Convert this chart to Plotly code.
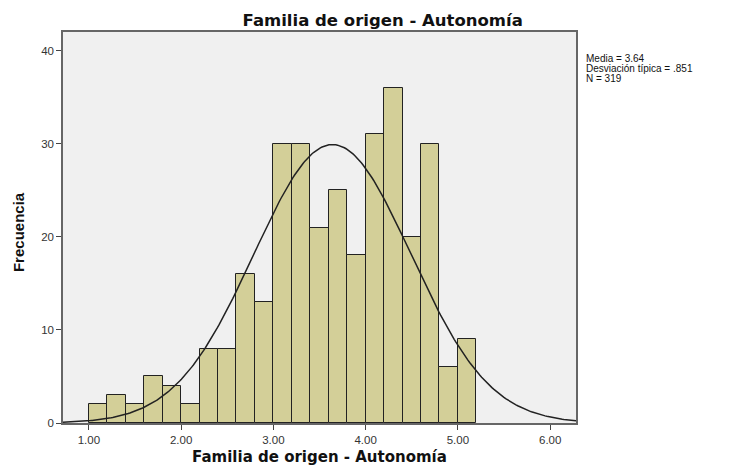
import numpy as np
import plotly.graph_objects as go

# histogram bins (width 0.2) and counts
bin_starts = [1.0, 1.2, 1.4, 1.6, 1.8, 2.0, 2.2, 2.4, 2.6, 2.8, 3.0,
              3.2, 3.4, 3.6, 3.8, 4.0, 4.2, 4.4, 4.6, 4.8, 5.0]
counts = [2, 3, 2, 5, 4, 2, 8, 8, 16, 13, 30,
          30, 21, 25, 18, 31, 36, 20, 30, 6, 9]
bin_width = 0.2

media = 3.64
desv = 0.851
n = 319

x_ticks = [1, 2, 3, 4, 5, 6]
x_tick_labels = ["1.00", "2.00", "3.00", "4.00", "5.00", "6.00"]
y_ticks = [0, 10, 20, 30, 40]

stats_lines = ["Media = 3.64", "Desviación típica = .851", "N = 319"]

centers = [b + bin_width / 2 for b in bin_starts]

# normal curve scaled to counts
xs = np.linspace(0.72, 6.28, 300)
ys = n * bin_width / (desv * np.sqrt(2 * np.pi)) * np.exp(-0.5 * ((xs - media) / desv) ** 2)

fig = go.Figure()
fig.add_trace(go.Bar(
    x=centers, y=counts, width=bin_width,
    marker=dict(color="#d3cf98", line=dict(color="#222222", width=1)),
    showlegend=False,
))
fig.add_trace(go.Scatter(
    x=xs, y=ys, mode="lines",
    line=dict(color="#222222", width=1.5),
    showlegend=False,
))

# stats box, one annotation per line to keep the tight line spacing
annots = []
for i, txt in enumerate(stats_lines):
    annots.append(dict(
        text=txt, xref="paper", yref="paper", x=1.016, y=0.9335 - i * 0.0256,
        xanchor="left", yanchor="middle", align="left", showarrow=False,
        font=dict(size=10, color="#111111"),
    ))
# y title as annotation so it can sit a little lower, like the original
annots.append(dict(
    text="<b>Frecuencia</b>", textangle=-90, xref="paper", yref="paper",
    x=-0.088, y=0.488, xanchor="center", yanchor="middle", showarrow=False,
    font=dict(family="Liberation Sans, Arial", size=15, color="#111111"),
))

# page body has an 8px margin, so the figure is a bit smaller than the window
fig.update_layout(
    width=722, height=460,
    margin=dict(l=55, r=154, t=24, b=45),
    paper_bgcolor="white",
    plot_bgcolor="#f0f0f0",
    bargap=0,
    font=dict(family="Liberation Sans, Arial", color="#333333", size=11),
    title=dict(text="<b>Familia de origen - Autonomía</b>", x=0.519, xanchor="center",
               y=0.974, yanchor="middle",
               font=dict(family="DejaVu Sans", size=16.5, color="#111111")),
    xaxis=dict(
        range=[0.72, 6.28], tickvals=x_ticks, ticktext=x_tick_labels,
        ticks="outside", ticklen=5, tickcolor="#444444",
        showgrid=False, zeroline=False, automargin=False,
        showline=True, linecolor="#666666", linewidth=1.5, mirror=True,
        tickfont=dict(size=11.5),
        title=dict(text="<b>Familia de origen - Autonomía</b>",
                   font=dict(family="DejaVu Sans", size=15, color="#111111"), standoff=7),
    ),
    yaxis=dict(
        range=[0, 42], tickvals=y_ticks,
        ticks="outside", ticklen=5, tickcolor="#444444",
        showgrid=False, zeroline=False, automargin=False,
        showline=True, linecolor="#666666", linewidth=1.5, mirror=True,
        tickfont=dict(size=11.5),
    ),
    annotations=annots,
)

fig.write_html("out.html")
